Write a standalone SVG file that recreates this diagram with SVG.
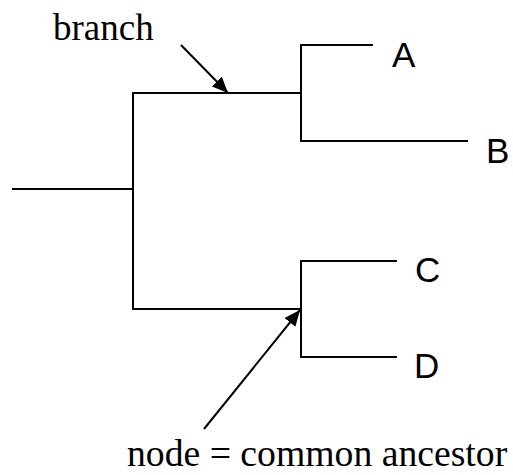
<svg xmlns="http://www.w3.org/2000/svg" width="513" height="475" viewBox="0 0 513 475">
<defs>
<marker id="ah" markerUnits="userSpaceOnUse" markerWidth="18" markerHeight="14" refX="16" refY="7" orient="auto">
<path d="M0,0 L16,7 L0,14 Z" fill="#000"/>
</marker>
<style>
.ln{stroke:#000;stroke-width:2;fill:none;stroke-linecap:square}
.ar{stroke:#000;stroke-width:2;fill:none;marker-end:url(#ah)}
.lbl{font-family:"Liberation Sans",Arial,sans-serif;font-size:35px;fill:#000}
.ann{font-family:"Liberation Serif","Times New Roman",serif;font-size:37px;fill:#000}
</style>
</defs>
<g id="connectors">
<path class="ln" d="M13,189 H133"/>
<path class="ln" d="M301,93 H133 V309 H301"/>
<path class="ln" d="M372,45 H301 V141 H467"/>
<path class="ln" d="M396,261 H301 V357 H396"/>
<line class="ar" x1="181" y1="45" x2="228" y2="93"/>
<line class="ar" x1="204" y1="429" x2="300" y2="310"/>
</g>
<g id="A"><text class="lbl" x="392" y="67">A</text></g>
<g id="B"><text class="lbl" x="486" y="163">B</text></g>
<g id="C"><text class="lbl" x="415" y="282">C</text></g>
<g id="D"><text class="lbl" x="414" y="378">D</text></g>
<g id="branch-label"><text class="ann" x="53" y="40">branch</text></g>
<g id="node-label"><text class="ann" x="127" y="466" style="font-size:37.7px">node = common ancestor</text></g>
</svg>
